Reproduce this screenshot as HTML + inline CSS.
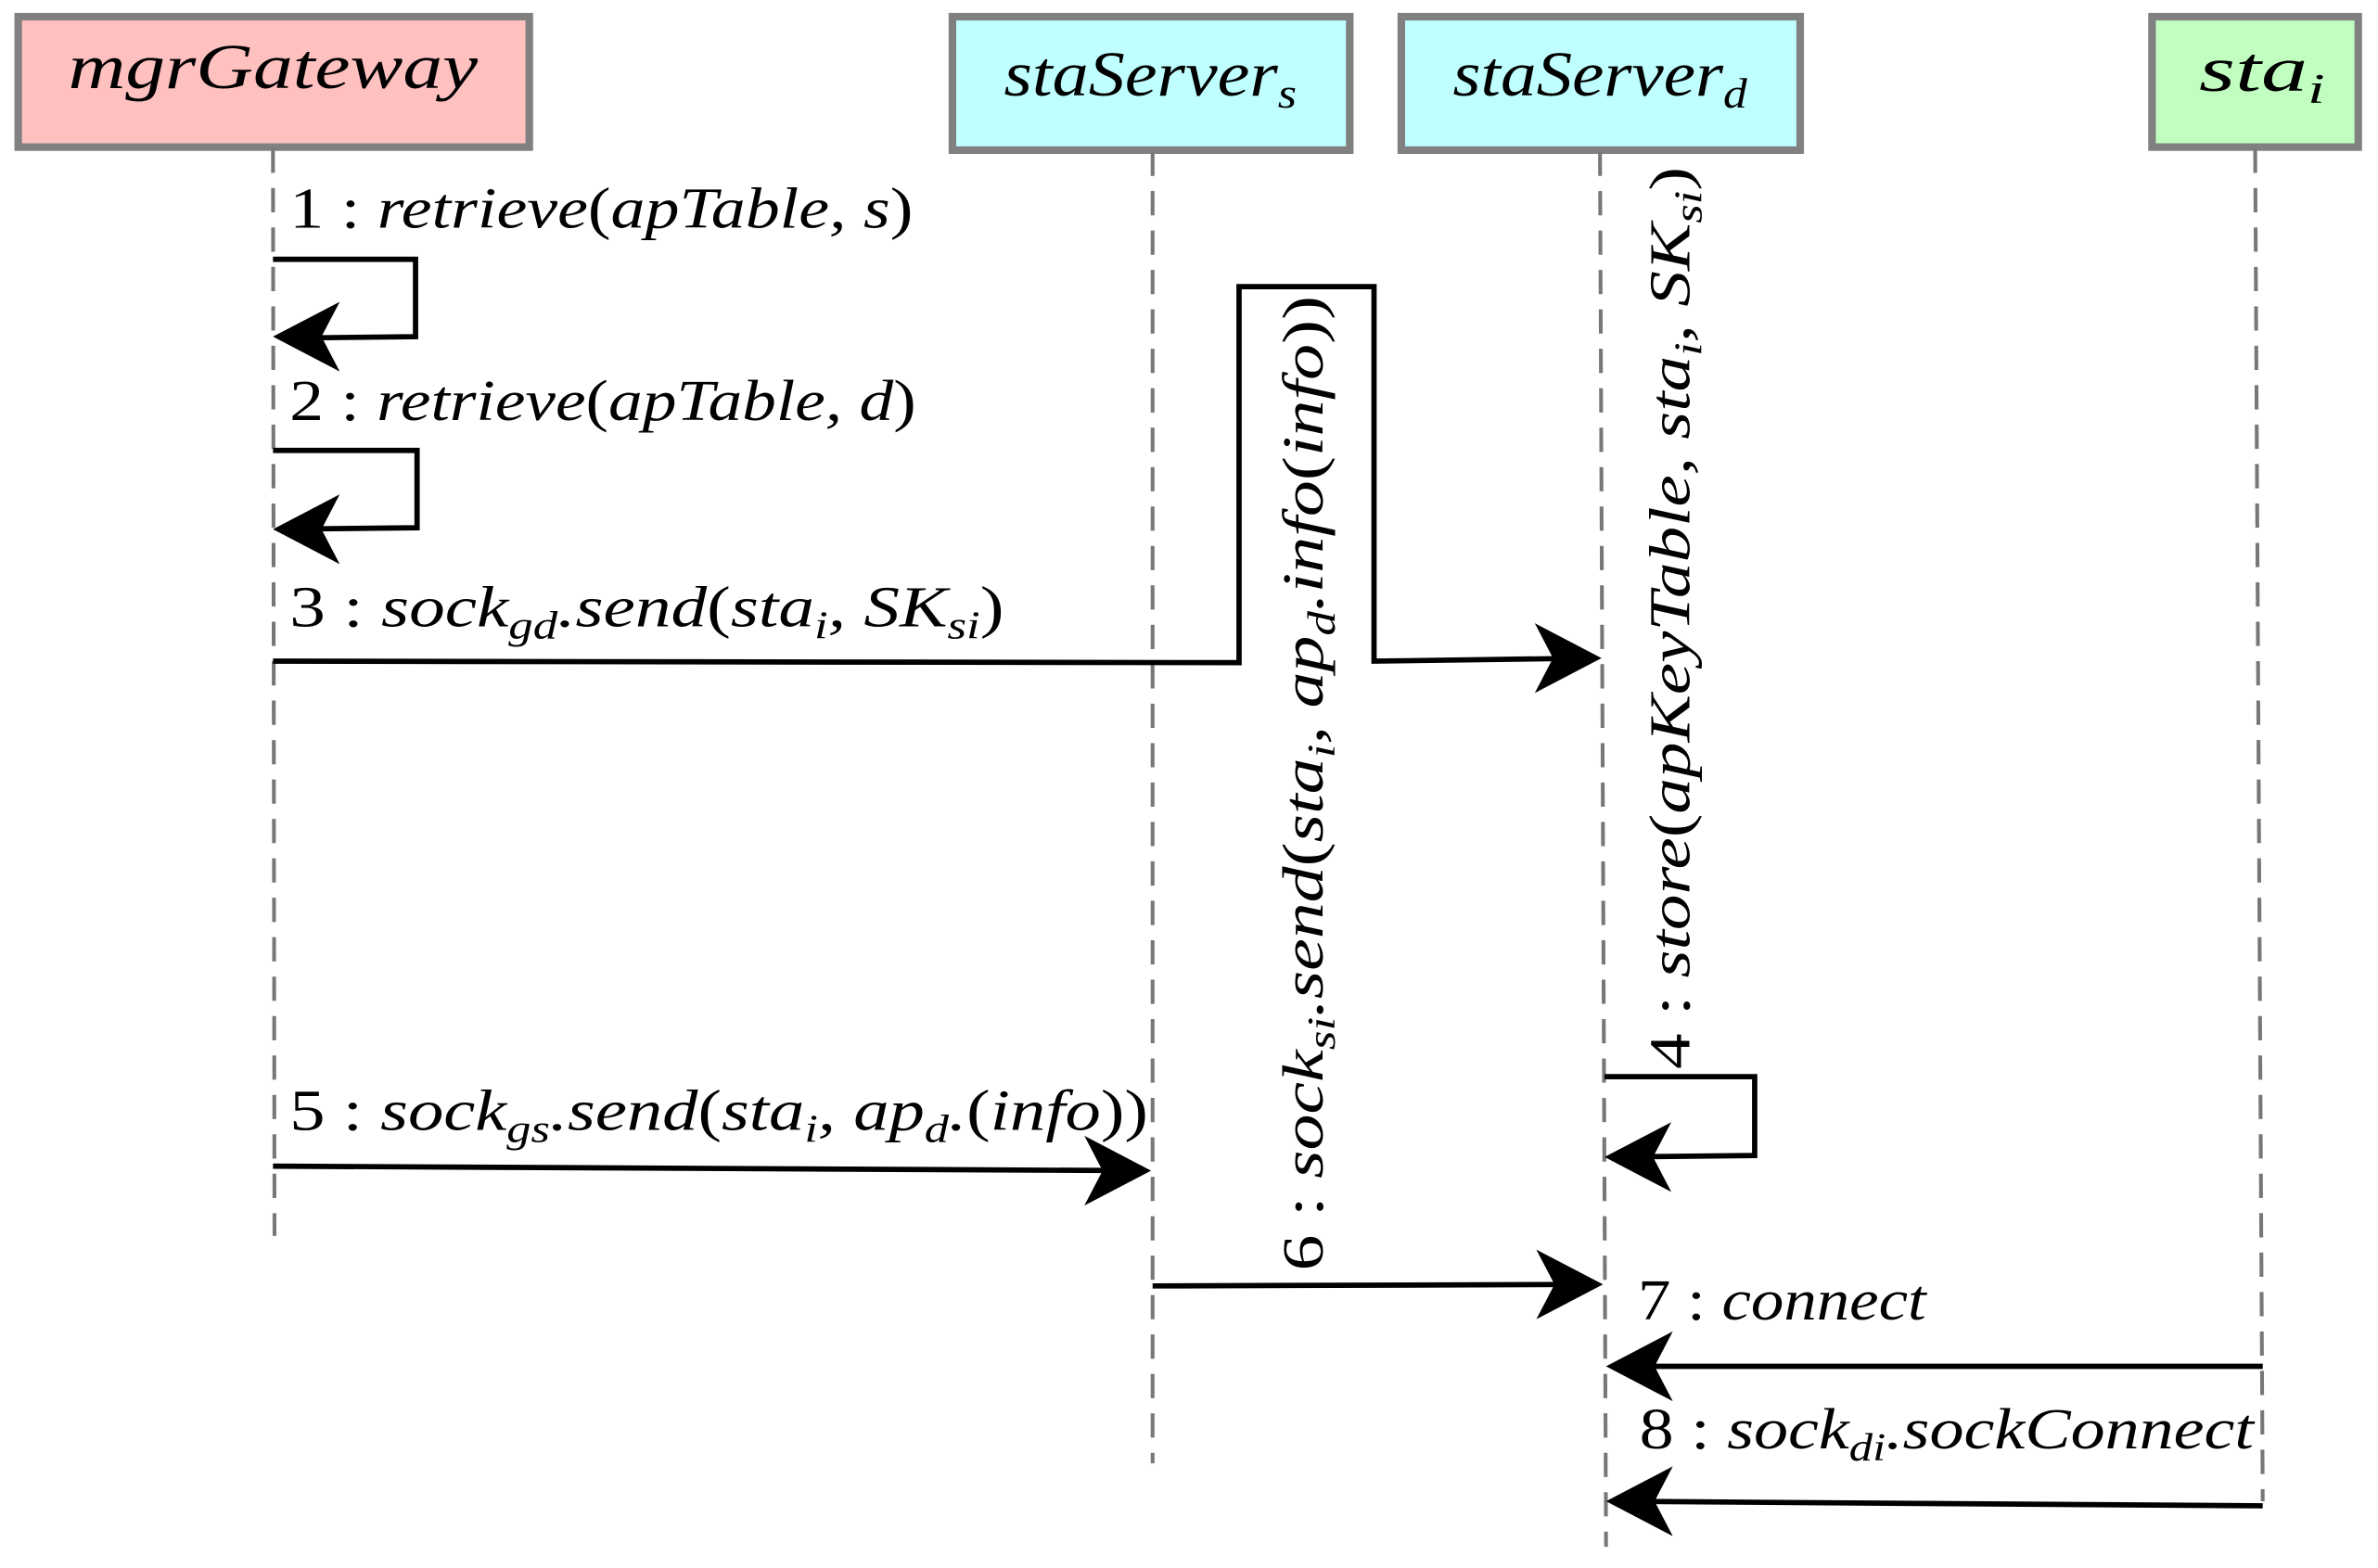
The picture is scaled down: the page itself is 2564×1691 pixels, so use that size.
<!DOCTYPE html>
<html><head><meta charset="utf-8"><style>
html,body{margin:0;padding:0;background:#fff;width:2564px;height:1691px;overflow:hidden}
svg{display:block}
text{font-family:"Liberation Serif",serif;font-style:italic;fill:#000}
.n{font-style:normal}
</style></head><body>
<svg width="2564" height="1691" viewBox="0 0 1568 1034" preserveAspectRatio="none" xmlns="http://www.w3.org/2000/svg">
<g stroke="#808080" stroke-width="5">
<rect x="12" y="11" width="337" height="86" fill="#ffc0c0"/>
<rect x="628" y="11" width="262" height="88" fill="#c0ffff"/>
<rect x="924" y="11" width="263" height="88" fill="#c0ffff"/>
<rect x="1419" y="11" width="136" height="86" fill="#c0ffc0"/>
</g>
<g font-size="42">
<text x="45" y="58" textLength="270" lengthAdjust="spacingAndGlyphs">mgrGateway</text>
<text x="662" y="63" textLength="193" lengthAdjust="spacingAndGlyphs">staServer<tspan font-size="28" dy="8">s</tspan></text>
<text x="958" y="63" textLength="194" lengthAdjust="spacingAndGlyphs">staServer<tspan font-size="28" dy="8">d</tspan></text>
<text x="1450" y="60" textLength="83" lengthAdjust="spacingAndGlyphs">sta<tspan font-size="28" dy="8">i</tspan></text>
</g>
<g stroke="#777" stroke-width="2.5" stroke-dasharray="16,10" fill="none">
<line x1="180" y1="98" x2="181" y2="815"/>
<line x1="760" y1="100" x2="760" y2="965"/>
<line x1="1055" y1="100" x2="1059" y2="1020"/>
<line x1="1487" y1="98" x2="1492" y2="990"/>
</g>
<g stroke="#000" stroke-width="3.5" fill="none">
<polyline points="180,171 274,171 274,222 185,223"/>
<polyline points="180,297 275,297 275,348 185,349"/>
<polyline points="180,436 817,437 817,189 906,189 906,436 1050,434"/>
<polyline points="1058,710 1157,710 1157,762 1063,763"/>
<line x1="180" y1="769" x2="755" y2="772"/>
<line x1="760" y1="848" x2="1050" y2="847"/>
<line x1="1492" y1="901" x2="1065" y2="901"/>
<line x1="1492" y1="993" x2="1065" y2="990"/>
</g>
<g fill="#000">
<polygon points="180,222 224,199 212,222 224,245"/>
<polygon points="180,349 224,326 212,349 224,372"/>
<polygon points="1056,434 1012,411 1024,434 1012,457"/>
<polygon points="1058,763 1102,740 1090,763 1102,786"/>
<polygon points="759,772 715,749 727,772 715,795"/>
<polygon points="1057,847 1013,824 1025,847 1013,870"/>
<polygon points="1059,901 1103,878 1091,901 1103,924"/>
<polygon points="1059,990 1103,967 1091,990 1103,1013"/>
</g>
<g font-size="38">
<text x="191" y="150" textLength="411" lengthAdjust="spacingAndGlyphs"><tspan class="n">1 :</tspan> retrieve<tspan class="n">(</tspan>apTable, s<tspan class="n">)</tspan></text>
<text x="191" y="277" textLength="413" lengthAdjust="spacingAndGlyphs"><tspan class="n">2 :</tspan> retrieve<tspan class="n">(</tspan>apTable, d<tspan class="n">)</tspan></text>
<text x="191" y="413" textLength="471" lengthAdjust="spacingAndGlyphs"><tspan class="n">3 :</tspan> sock<tspan font-size="26" dy="8">gd</tspan><tspan dy="-8">.send</tspan><tspan class="n">(</tspan>sta<tspan font-size="26" dy="8">i</tspan><tspan dy="-8">, SK</tspan><tspan font-size="26" dy="8">si</tspan><tspan class="n" dy="-8">)</tspan></text>
<text x="191" y="745" textLength="566" lengthAdjust="spacingAndGlyphs"><tspan class="n">5 :</tspan> sock<tspan font-size="26" dy="8">gs</tspan><tspan dy="-8">.send</tspan><tspan class="n">(</tspan>sta<tspan font-size="26" dy="8">i</tspan><tspan dy="-8">, ap</tspan><tspan font-size="26" dy="8">d</tspan><tspan dy="-8">.</tspan><tspan class="n">(</tspan>info<tspan class="n">))</tspan></text>
<text x="1080" y="870" textLength="190" lengthAdjust="spacingAndGlyphs"><tspan class="n">7 :</tspan> connect</text>
<text x="1081" y="955" textLength="405" lengthAdjust="spacingAndGlyphs"><tspan class="n">8 :</tspan> sock<tspan font-size="26" dy="8">di</tspan><tspan dy="-8">.sockConnect</tspan></text>
<text transform="translate(872,838) rotate(-90)" textLength="643" lengthAdjust="spacingAndGlyphs"><tspan class="n">6 :</tspan> sock<tspan font-size="26" dy="8">si</tspan><tspan dy="-8">.send</tspan><tspan class="n">(</tspan>sta<tspan font-size="26" dy="8">i</tspan><tspan dy="-8">, ap</tspan><tspan font-size="26" dy="8">d</tspan><tspan dy="-8">.info</tspan><tspan class="n">(</tspan>info<tspan class="n">))</tspan></text>
<text transform="translate(1114,705) rotate(-90)" textLength="595" lengthAdjust="spacingAndGlyphs"><tspan class="n">4 :</tspan> store<tspan class="n">(</tspan>apKeyTable, sta<tspan font-size="26" dy="8">i</tspan><tspan dy="-8">, SK</tspan><tspan font-size="26" dy="8">si</tspan><tspan class="n" dy="-8">)</tspan></text>
</g>
</svg>
</body></html>
